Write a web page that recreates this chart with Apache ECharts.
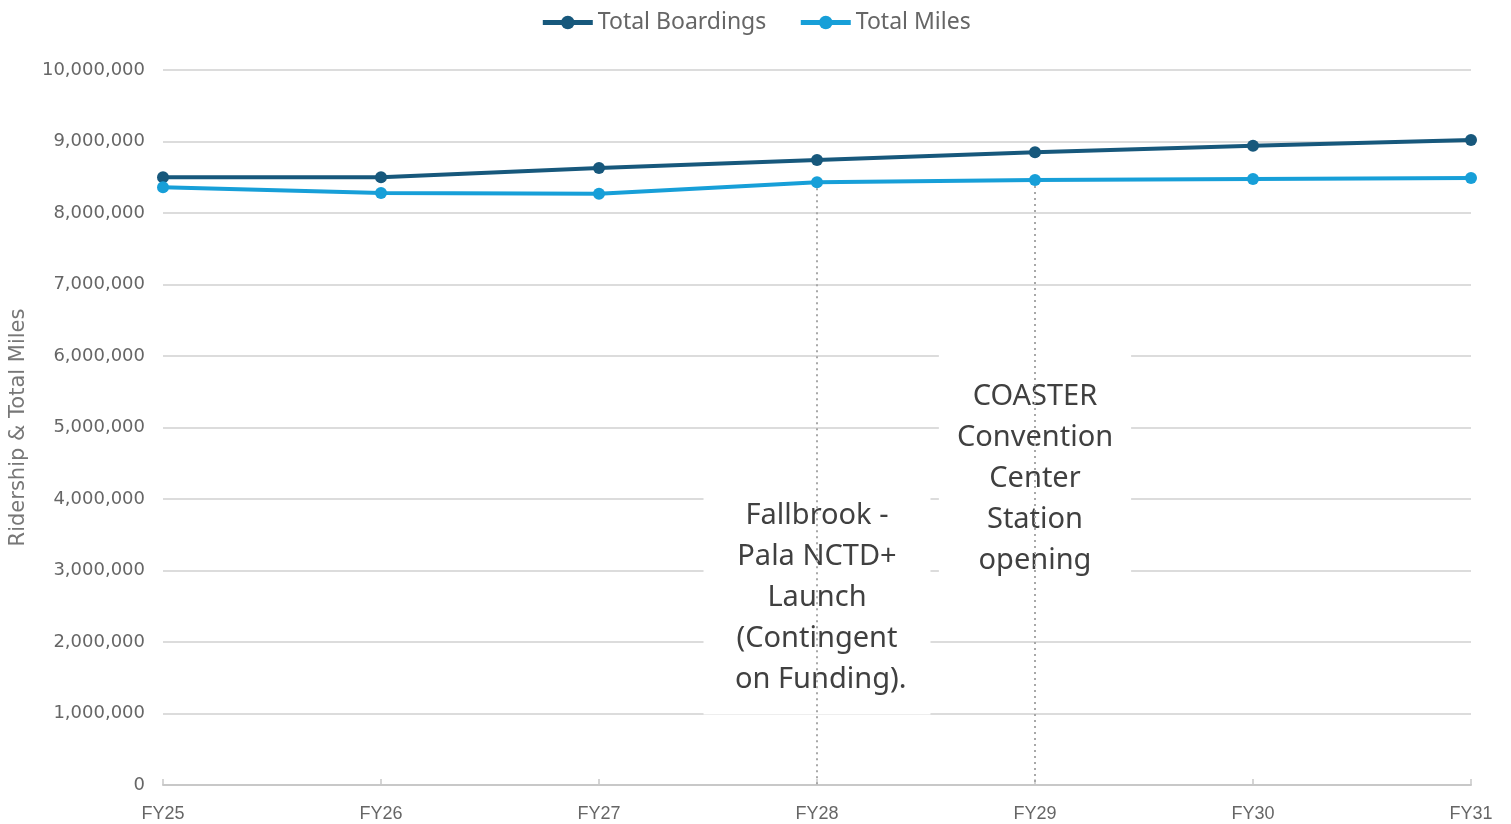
<!DOCTYPE html>
<html>
<head>
<meta charset="utf-8">
<script src="https://cdn.jsdelivr.net/npm/echarts@6/dist/echarts.min.js"></script>
<style>
  html, body { margin: 0; padding: 0; background: #fff; }
  #chart { width: 1511px; height: 824px; }
</style>
</head>
<body>
<div id="chart"></div>
<script>
var years = ['FY25', 'FY26', 'FY27', 'FY28', 'FY29', 'FY30', 'FY31']
var boardings = [8500000, 8500000, 8630000, 8740000, 8850000, 8940000, 9020000]
var miles = [8360000, 8280000, 8270000, 8430000, 8460000, 8475000, 8490000]
var yTicks = [0, 10000000, 1000000]  // min, max, interval

// milestone notes: [category, value the dotted line starts from, value of the text centre, text, box padding]
var notes = [
    ['FY28', 8430000, 2615000, 'Fallbrook -\nPala NCTD+\nLaunch\n(Contingent\n on Funding).', [14, 24]],
    ['FY29', 8460000, 4280000, 'COASTER\nConvention\nCenter\nStation\nopening', [26, 18]]
]

var chart = echarts.init(document.getElementById('chart'))

var noteText = {
    color: '#404040',
    fontFamily: 'Noto Sans',
    fontSize: 29,
    lineHeight: 41,
    backgroundColor: '#fff'
}

var option = {
    animation: false,
    legend: {
        data: ['Total Boardings', 'Total Miles'],
        top: 6,
        left: 'center',
        itemWidth: 50,
        itemHeight: 17,
        itemGap: 32,
        lineStyle: { width: 5 },
        textStyle: {
            color: '#666',
            fontFamily: 'Noto Sans',
            fontSize: 23
        }
    },
    grid: {
        left: 162,
        right: 40,
        top: 70,
        bottom: 39
    },
    xAxis: {
        type: 'category',
        data: years,
        boundaryGap: false,
        axisLine: { lineStyle: { color: '#c8c8c8', width: 2 } },
        axisTick: { inside: true, length: 6, lineStyle: { color: '#c8c8c8', width: 1.5 } },
        axisLabel: {
            color: '#666',
            fontFamily: 'Liberation Sans',
            fontSize: 18,
            margin: 20
        }
    },
    yAxis: {
        type: 'value',
        min: yTicks[0],
        max: yTicks[1],
        interval: yTicks[2],
        name: 'Ridership & Total Miles',
        nameLocation: 'middle',
        nameGap: 134,
        nameTextStyle: {
            color: '#777',
            fontFamily: 'DejaVu Sans',
            fontSize: 21
        },
        axisLine: { show: false },
        axisTick: { show: false },
        axisLabel: {
            color: '#666',
            fontFamily: 'DejaVu Sans',
            fontSize: 18,
            margin: 18,
            formatter: function (v) { return v.toLocaleString('en-US') }
        },
        splitLine: { lineStyle: { color: '#dcdcdc', width: 2 } }
    },
    series: [
        {
            // text boxes, drawn under the dotted lines
            type: 'line',
            data: [],
            z: 1,
            markPoint: {
                z: 1,
                symbol: 'rect',
                symbolSize: 0,
                silent: true,
                data: notes.map(function (n) {
                    return {
                        coord: [n[0], n[2]],
                        label: Object.assign({
                            show: true,
                            position: 'inside',
                            align: 'center',
                            verticalAlign: 'middle',
                            padding: n[4],
                            formatter: n[3]
                        }, noteText)
                    }
                })
            }
        },
        {
            name: 'Total Boardings',
            type: 'line',
            data: boardings,
            zlevel: 1,
            symbol: 'circle',
            symbolSize: 12,
            color: '#17587c',
            lineStyle: { width: 4 }
        },
        {
            name: 'Total Miles',
            type: 'line',
            data: miles,
            zlevel: 1,
            symbol: 'circle',
            symbolSize: 12,
            color: '#179fd8',
            lineStyle: { width: 4 },
            markLine: {
                zlevel: 1,
                z: 1,
                silent: true,
                symbol: ['none', 'none'],
                label: { show: false },
                lineStyle: { type: [2, 4], color: '#a8a8a8', width: 2 },
                data: notes.map(function (n) {
                    return [{ coord: [n[0], n[1]] }, { coord: [n[0], 0] }]
                })
            }
        }
    ]
}

chart.setOption(option)
</script>
</body>
</html>
